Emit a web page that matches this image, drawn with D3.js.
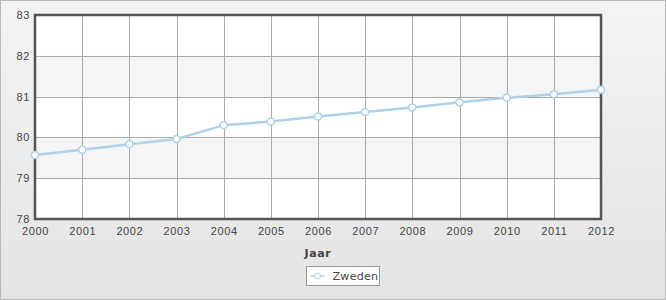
<!DOCTYPE html>
<html>
<head>
<meta charset="utf-8">
<script src="https://cdn.jsdelivr.net/npm/d3@7"></script>
<style>
  body { margin: 0; padding: 0; }
  svg { display: block; font-family: "DejaVu Sans", Verdana, sans-serif; }
</style>
</head>
<body>
<div id="viz"></div>
<script>
// data
var years = [2000, 2001, 2002, 2003, 2004, 2005, 2006, 2007, 2008, 2009, 2010, 2011, 2012];
var zweden = [79.57, 79.70, 79.83, 79.96, 80.30, 80.39, 80.51, 80.62, 80.73, 80.86, 80.97, 81.06, 81.17];
var yTicks = [78, 79, 80, 81, 82, 83];
var seriesName = "Zweden";
var xTitle = "Jaar";

var W = 666, H = 300;
// plot area (don't call it "top", that's window.top)
var pLeft = 35, pRight = 601, pTop = 15, pBottom = 219;

var svg = d3.select("#viz").append("svg")
  .attr("width", W).attr("height", H);

var defs = svg.append("defs");
var grad = defs.append("linearGradient").attr("id", "bg")
  .attr("x1", 0).attr("y1", 0).attr("x2", 0).attr("y2", 1);
grad.append("stop").attr("offset", "0%").attr("stop-color", "#f4f4f4");
grad.append("stop").attr("offset", "100%").attr("stop-color", "#e4e4e4");

svg.append("rect")
  .attr("x", 0.5).attr("y", 0.5).attr("width", W - 1).attr("height", H - 1)
  .attr("fill", "url(#bg)").attr("stroke", "#b8b8b8");

var x = d3.scaleLinear().domain([years[0], years[years.length - 1]]).range([pLeft, pRight]);
var y = d3.scaleLinear().domain([78, 83]).range([pBottom, pTop]);

// alternating bands
var bands = yTicks.slice(0, -1);
svg.append("g").selectAll("rect").data(bands).enter().append("rect")
  .attr("x", pLeft).attr("width", pRight - pLeft)
  .attr("y", function(d) { return y(d + 1); })
  .attr("height", function(d) { return y(d) - y(d + 1); })
  .attr("fill", function(d, i) { return i % 2 ? "#f5f5f5" : "#ffffff"; });

// grid
var grid = svg.append("g").attr("stroke", "#aaaaaa").attr("stroke-width", 1);
grid.selectAll("line.v").data(years).enter().append("line")
  .attr("x1", function(d) { return Math.round(x(d)) + 0.5; })
  .attr("x2", function(d) { return Math.round(x(d)) + 0.5; })
  .attr("y1", pTop).attr("y2", pBottom);
grid.selectAll("line.h").data(yTicks).enter().append("line")
  .attr("x1", pLeft).attr("x2", pRight)
  .attr("y1", function(d) { return Math.round(y(d)) + 0.5; })
  .attr("y2", function(d) { return Math.round(y(d)) + 0.5; });

// frame
svg.append("rect")
  .attr("x", pLeft).attr("y", pTop).attr("width", pRight - pLeft).attr("height", pBottom - pTop)
  .attr("fill", "none").attr("stroke", "#555555").attr("stroke-width", 2.5);

// axes
var yAxis = d3.axisLeft(y).tickValues(yTicks).tickSize(0).tickPadding(5).tickFormat(d3.format("d"));
var gy = svg.append("g").attr("transform", "translate(" + pLeft + ",0)").call(yAxis);
var xAxis = d3.axisBottom(x).tickValues(years).tickSize(0).tickPadding(8).tickFormat(d3.format("d"));
var gx = svg.append("g").attr("transform", "translate(0," + pBottom + ")").call(xAxis);
[gy, gx].forEach(function(g) {
  g.select(".domain").remove();
  g.selectAll("text").attr("fill", "#444").style("font-size", "11px")
    .style("letter-spacing", "0.6px");
});

svg.append("text")
  .attr("x", (pLeft + pRight) / 2).attr("y", 257)
  .attr("text-anchor", "middle")
  .attr("fill", "#444").style("font-size", "11px").style("font-weight", "bold")
  .style("letter-spacing", "0.6px")
  .text(xTitle);

// series
var pts = years.map(function(d, i) { return [d, zweden[i]]; });
var line = d3.line().x(function(d) { return x(d[0]); }).y(function(d) { return y(d[1]); });
svg.append("path").datum(pts)
  .attr("d", line).attr("fill", "none")
  .attr("stroke", "#aed2ea").attr("stroke-width", 2.5);
svg.append("g").selectAll("circle").data(pts).enter().append("circle")
  .attr("cx", function(d) { return x(d[0]); })
  .attr("cy", function(d) { return y(d[1]); })
  .attr("r", 3.5)
  .attr("fill", "#ffffff").attr("stroke", "#aed2ea").attr("stroke-width", 1.5);

// legend
var lg = svg.append("g").attr("transform", "translate(306.5,266.5)");
lg.append("rect").attr("width", 73).attr("height", 19)
  .attr("fill", "#fff").attr("stroke", "#999");
lg.append("line").attr("x1", 4).attr("x2", 18).attr("y1", 9.5).attr("y2", 9.5)
  .attr("stroke", "#aed2ea").attr("stroke-width", 1.5);
lg.append("circle").attr("cx", 11).attr("cy", 9.5).attr("r", 3)
  .attr("fill", "#fff").attr("stroke", "#aed2ea");
lg.append("text").attr("x", 26).attr("y", 13.5)
  .attr("fill", "#444").style("font-size", "11px")
  .style("letter-spacing", "0.3px")
  .text(seriesName);
</script>
</body>
</html>
